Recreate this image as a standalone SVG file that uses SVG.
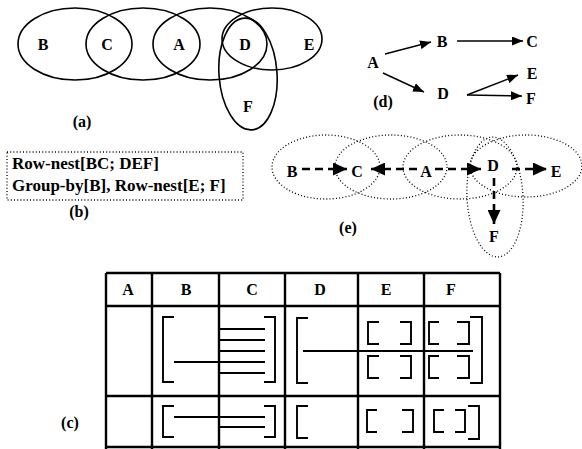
<svg xmlns="http://www.w3.org/2000/svg" width="582" height="449" viewBox="0 0 582 449">
<style>
text{font-family:"Liberation Serif","DejaVu Serif",serif;font-weight:bold;fill:#000;text-anchor:middle}
.lbl{font-size:16px}
.cap{font-size:16px}
.b{font-size:17px;text-anchor:start}
.el{fill:none;stroke:#000;stroke-width:1.6}
.dot{fill:none;stroke:#000;stroke-width:1.3;stroke-dasharray:1 2.2}
.ar{fill:none;stroke:#000;stroke-width:1.4}
.da{fill:none;stroke:#000;stroke-width:2.6;stroke-dasharray:8 5}
.tb{fill:none;stroke:#000;stroke-width:2.4}
.br{fill:none;stroke:#000;stroke-width:1.9}
</style>
<defs>
<marker id="ha" markerUnits="userSpaceOnUse" markerWidth="11" markerHeight="9" refX="11" refY="4.5" orient="auto"><path d="M0,0 L11,4.5 L0,9 z" fill="#000"/></marker>
<marker id="hb" markerUnits="userSpaceOnUse" markerWidth="14" markerHeight="13" refX="14" refY="6.5" orient="auto"><path d="M0,0 L14,6.5 L0,13 z" fill="#000"/></marker>
</defs>
<rect width="582" height="449" fill="#fff"/>

<!-- (a) -->
<g id="diagram-a">
<ellipse class="el" cx="75" cy="44" rx="57" ry="36"/>
<ellipse class="el" cx="143" cy="44" rx="57" ry="36"/>
<ellipse class="el" cx="210" cy="44" rx="57" ry="36"/>
<ellipse class="el" cx="272" cy="39" rx="50" ry="31"/>
<ellipse class="el" cx="248" cy="74" rx="29" ry="56" transform="rotate(-4 248 74)"/>
<text class="lbl" x="43" y="50">B</text>
<text class="lbl" x="107" y="50">C</text>
<text class="lbl" x="179" y="50">A</text>
<text class="lbl" x="245" y="50">D</text>
<text class="lbl" x="309" y="50">E</text>
<text class="lbl" x="248" y="112">F</text>
<text class="cap" x="82" y="127">(a)</text>
</g>

<!-- (d) -->
<g id="diagram-d">
<g id="d-A"><text class="lbl" x="373" y="68">A</text></g>
<g id="d-B"><text class="lbl" x="442" y="47">B</text></g>
<g id="d-C"><text class="lbl" x="532" y="47">C</text></g>
<g id="d-D"><text class="lbl" x="443" y="99">D</text></g>
<g id="d-E"><text class="lbl" x="532" y="79">E</text></g>
<g id="d-F"><text class="lbl" x="531" y="104">F</text></g>
<g id="d-connectors">
<line class="ar" x1="385" y1="54" x2="431" y2="42" marker-end="url(#ha)"/>
<line class="ar" x1="457" y1="41" x2="523" y2="41" marker-end="url(#ha)"/>
<line class="ar" x1="383" y1="73" x2="424" y2="92" marker-end="url(#ha)"/>
<line class="ar" x1="467" y1="95" x2="518" y2="75" marker-end="url(#ha)"/>
<line class="ar" x1="467" y1="95" x2="522" y2="96" marker-end="url(#ha)"/>
</g>
<text class="cap" x="383" y="107">(d)</text>
</g>

<!-- (b) -->
<g id="diagram-b">
<rect class="dot" x="7" y="152" width="236" height="48"/>
<text class="b" x="12" y="169">Row-nest[BC; DEF]</text>
<text class="b" x="12" y="191">Group-by[B], Row-nest[E; F]</text>
<text class="cap" x="79" y="217">(b)</text>
</g>

<!-- (e) -->
<g id="diagram-e">
<ellipse class="dot" cx="326" cy="167" rx="54" ry="32"/>
<ellipse class="dot" cx="391" cy="167" rx="56" ry="32"/>
<ellipse class="dot" cx="460" cy="167" rx="57" ry="32"/>
<ellipse class="dot" cx="526" cy="166" rx="56" ry="31"/>
<ellipse class="dot" cx="495" cy="197" rx="28" ry="60" transform="rotate(-3 495 197)"/>
<g id="e-B"><text class="lbl" x="292" y="177">B</text></g>
<g id="e-C"><text class="lbl" x="357" y="177">C</text></g>
<g id="e-A"><text class="lbl" x="426" y="177">A</text></g>
<g id="e-D"><text class="lbl" x="493" y="171">D</text></g>
<g id="e-E"><text class="lbl" x="556" y="177">E</text></g>
<g id="e-F"><text class="lbl" x="494" y="242">F</text></g>
<g id="e-connectors">
<line class="da" x1="302" y1="169" x2="347" y2="169" marker-end="url(#hb)"/>
<line class="da" x1="417" y1="169" x2="371" y2="169" marker-end="url(#hb)"/>
<line class="da" x1="435" y1="169" x2="481" y2="169" marker-end="url(#hb)"/>
<line class="da" x1="512" y1="169" x2="547" y2="169" marker-end="url(#hb)"/>
<line class="da" x1="494" y1="178" x2="494" y2="224" marker-end="url(#hb)"/>
</g>
<text class="cap" x="348" y="233">(e)</text>
</g>

<!-- (c) -->
<g id="diagram-c">
<path class="tb" d="M106,273 H500 M106,306 H500 M106,396 H500 M106,447 H500 M106,273 V449 M152,273 V449 M219,273 V449 M285,273 V449 M358,273 V449 M424,273 V449 M500,273 V449"/>
<text class="lbl" x="128" y="295">A</text>
<text class="lbl" x="186" y="295">B</text>
<text class="lbl" x="252" y="295">C</text>
<text class="lbl" x="320" y="295">D</text>
<text class="lbl" x="386" y="295">E</text>
<text class="lbl" x="451" y="295">F</text>
<text class="cap" x="70" y="428">(c)</text>
<g id="row1">
<path class="br" d="M174,317 H163 V382 H174"/>
<path class="br" d="M264,317 H275 V382 H264"/>
<path class="br" d="M174,362 H265 M219,329 H265 M219,340 H265 M219,351 H265 M219,373 H265"/>
<path class="br" d="M308,318 H297 V383 H308"/>
<path class="br" d="M303,351 H473"/>
<path class="br" d="M379,322 H368 V344 H379 M400,322 H411 V344 H400 M379,356 H368 V378 H379 M400,356 H411 V378 H400"/>
<path class="br" d="M439,322 H429 V344 H439 M457,322 H469 V344 H457 M439,356 H429 V378 H439 M457,356 H469 V378 H457"/>
<path class="br" d="M470,317 H482 V383 H470"/>
</g>
<g id="row2">
<path class="br" d="M174,406 H163 V437 H174"/>
<path class="br" d="M264,406 H275 V437 H264"/>
<path class="br" d="M174,417 H265 M219,427 H265"/>
<path class="br" d="M308,406 H297 V438 H308"/>
<path class="br" d="M377,410 H367 V432 H377 M402,410 H413 V432 H402"/>
<path class="br" d="M444,410 H434 V432 H444 M455,410 H465 V432 H455"/>
<path class="br" d="M468,406 H479 V439 H468"/>
</g>
</g>
</svg>
